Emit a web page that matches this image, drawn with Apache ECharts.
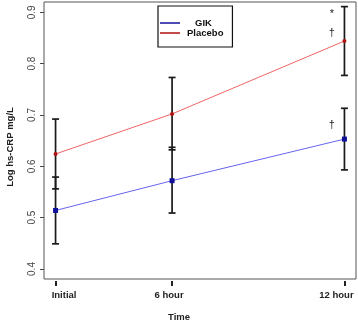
<!DOCTYPE html>
<html><head><meta charset="utf-8">
<script src="https://cdn.jsdelivr.net/npm/echarts@6/dist/echarts.min.js"></script>
<style>html,body{margin:0;padding:0;background:#fff}#c{width:358px;height:322px}</style>
</head><body><div id="c"></div>
<script>
const categories = ['Initial', '6 hour', '12 hour'];
const timePos = [0.48, 5.32, 12.48];
const gikMean = [0.514, 0.572, 0.653];
const gikLow = [0.449, 0.509, 0.593];
const gikHigh = [0.579, 0.637, 0.713];
const placeboMean = [0.624, 0.702, 0.844];
const placeboLow = [0.556, 0.632, 0.777];
const placeboHigh = [0.692, 0.773, 0.911];
const yTicks = [0.4, 0.5, 0.6, 0.7, 0.8, 0.9];
const annoX = [11.96, 11.96, 11.96];
const annoY = [0.896, 0.859, 0.681];
const annoText = ['*', '\u2020', '\u2020'];

const FONT = '"Liberation Sans", Arial, sans-serif';
const chart = echarts.init(document.getElementById('c'), null, {renderer: 'canvas'});

const errData = [];
timePos.forEach((x, i) => {
  errData.push([x, placeboLow[i], placeboHigh[i]]);
  errData.push([x, gikLow[i], gikHigh[i]]);
});

function errRender(params, api) {
  const x = api.value(0);
  const lo = api.coord([x, api.value(1)]);
  const hi = api.coord([x, api.value(2)]);
  const w = 3.5;
  const st = {stroke: '#1a1a1a', lineWidth: 1.7};
  return {type: 'group', children: [
    {type: 'line', shape: {x1: lo[0], y1: lo[1], x2: hi[0], y2: hi[1]}, style: st},
    {type: 'line', shape: {x1: lo[0] - w, y1: lo[1], x2: lo[0] + w, y2: lo[1]}, style: st},
    {type: 'line', shape: {x1: hi[0] - w, y1: hi[1], x2: hi[0] + w, y2: hi[1]}, style: st}
  ]};
}

function annoRender(params, api) {
  const p = api.coord([api.value(0), api.value(1)]);
  return {type: 'text', x: p[0], y: p[1], style: {
    text: annoText[params.dataIndex], align: 'center', verticalAlign: 'middle',
    font: '11px ' + FONT, fill: '#222'}};
}

const labelMap = {};
timePos.forEach((x, i) => labelMap[x] = i);

chart.setOption({
  animation: false,
  grid: {left: 44, top: 2, right: 2, bottom: 43, show: true, borderColor: '#555', borderWidth: 1, containLabel: false},
  xAxis: {
    type: 'value', min: 0, max: 12.96, offset: 2,
    splitLine: {show: false},
    axisLine: {show: false, onZero: false},
    axisTick: {show: true, length: 5, customValues: timePos, lineStyle: {color: '#222', width: 2}},
    axisLabel: {
      customValues: timePos, margin: 9,
      formatter: v => {
        const i = labelMap[v];
        return ['{a|', '{b|', '{c|'][i] + categories[i] + '}';
      },
      rich: {
        a: {fontFamily: FONT, fontWeight: 'bold', fontSize: 9.5, color: '#222', padding: [0, 0, 0, 17]},
        b: {fontFamily: FONT, fontWeight: 'bold', fontSize: 9.5, color: '#222', padding: [0, 6, 0, 0]},
        c: {fontFamily: FONT, fontWeight: 'bold', fontSize: 9.5, color: '#222', padding: [0, 16, 0, 0]}
      }
    }
  },
  yAxis: {
    type: 'value', min: 0.3805, max: 0.92,
    splitLine: {show: false},
    axisLine: {show: false},
    axisTick: {show: true, length: 4, customValues: yTicks, lineStyle: {color: '#444', width: 1}},
    axisLabel: {customValues: yTicks, rotate: 90, margin: 7, align: 'center', verticalAlign: 'bottom',
      fontFamily: FONT, fontSize: 10, color: '#444',
      formatter: v => v.toFixed(1)}
  },
  legend: {
    orient: 'vertical', left: 158, top: 6, itemGap: 0,
    itemWidth: 20, itemHeight: 1.5, icon: 'rect',
    borderColor: '#111', borderWidth: 1.2, padding: [12, 9, 9, 2],
    data: ['GIK', 'Placebo'],
    formatter: n => n === 'GIK' ? '{g|GIK}' : '{p|Placebo}',
    textStyle: {
      rich: {
        g: {fontFamily: FONT, fontWeight: 'bold', fontSize: 9.5, color: '#111', lineHeight: 9, padding: [0, 0, 0, 10]},
        p: {fontFamily: FONT, fontWeight: 'bold', fontSize: 9.5, color: '#111', lineHeight: 9, padding: [0, 0, 0, 2]}
      }
    }
  },
  graphic: [
    {type: 'text', x: 10, y: 147, rotation: Math.PI / 2,
      style: {text: 'Log hs-CRP mg/L', align: 'center', verticalAlign: 'middle', font: 'bold 9.5px ' + FONT, fill: '#222'}},
    {type: 'text', x: 179, y: 317,
      style: {text: 'Time', align: 'center', verticalAlign: 'middle', font: 'bold 9.5px ' + FONT, fill: '#222'}}
  ],
  series: [
    {type: 'custom', name: 'err', renderItem: errRender, data: errData, z: 3, silent: true},
    {type: 'line', name: 'GIK', data: timePos.map((x, i) => [x, gikMean[i]]), z: 4,
      color: '#4d4df2',
      lineStyle: {color: '#6464f0', width: 1},
      symbol: 'rect', symbolSize: 5, itemStyle: {color: '#10109a'}},
    {type: 'line', name: 'Placebo', data: timePos.map((x, i) => [x, placeboMean[i]]), z: 4,
      color: '#e53030',
      lineStyle: {color: '#f06464', width: 1},
      symbol: 'circle', symbolSize: 4, itemStyle: {color: '#b01010'}},
    {type: 'custom', name: 'anno', renderItem: annoRender, data: annoX.map((x, i) => [x, annoY[i]]), z: 5, silent: true}
  ]
});
</script></body></html>
